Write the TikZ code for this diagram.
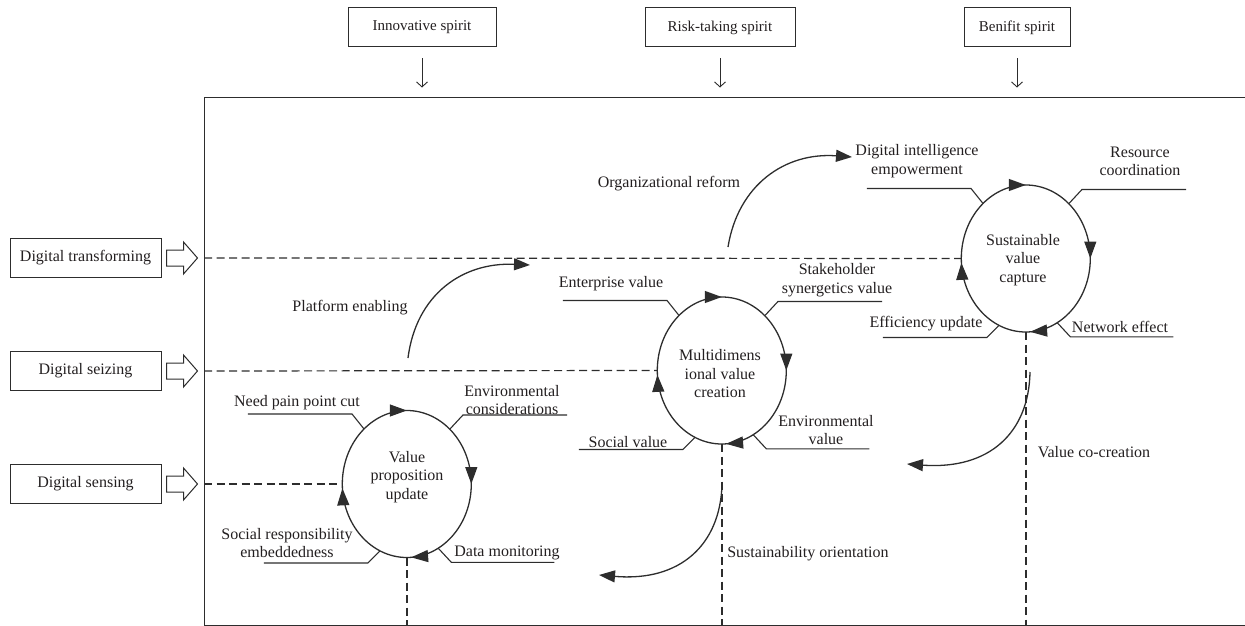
\documentclass[tikz,border=0pt]{standalone}
\usepackage{fontspec}
\setmainfont{Liberation Serif}
\usetikzlibrary{arrows.meta,decorations.markings,shapes.geometric,calc}
\definecolor{ink}{RGB}{35,31,32}
\definecolor{lineink}{RGB}{45,45,45}
\begin{document}
\begin{tikzpicture}[x=1pt,y=-1pt,
  every node/.style={text=ink, font=\fontsize{16}{18.5}\selectfont},
  lbl/.style={align=center, inner sep=0pt},
  sbox/.style={draw=lineink, line width=1pt, minimum height=39pt, inner sep=0pt, font=\fontsize{15}{17}\selectfont},
  lbox/.style={draw=lineink, line width=1pt, minimum width=151pt, minimum height=39pt, inner sep=0pt},
  ring/.style={ellipse, minimum width=129pt, minimum height=147pt, inner sep=0pt},
  ringpath/.style={draw=lineink, line width=1.3pt, decoration={markings,
     mark=at position 0.25 with {\arrow{Triangle[length=17pt,width=12pt]}},
     mark=at position 0.5 with {\arrow{Triangle[length=17pt,width=12pt]}},
     mark=at position 0.74 with {\arrow{Triangle[length=17pt,width=12pt]}},
     mark=at position 0.99 with {\arrow{Triangle[length=17pt,width=12pt]}}},
     postaction={decorate}},
  leader/.style={draw=lineink, line width=1.1pt},
  dashline/.style={draw=lineink, line width=1.2pt, dash pattern=on 8pt off 4.5pt},
  curvearrow/.style={draw=lineink, line width=1.3pt, -{Triangle[length=16pt,width=12pt]}},
  spiritarrow/.style={draw=lineink, line width=0.9pt, -{Straight Barb[length=5pt,width=11pt]}},
  hollow/.style={draw=lineink, line width=1pt, fill=white}
]
\useasboundingbox (0,0) rectangle (1245,626);

% frame
\node[draw=lineink, line width=1.4pt, minimum width=1060pt, minimum height=528pt, anchor=north west, inner sep=0pt] (frame) at (204,96.5) {};

% top boxes
\node[sbox, minimum width=148pt] (inn) at (422,27.5) {Innovative spirit};
\node[sbox, minimum width=150pt] (risk) at (720,27.5) {Risk-taking spirit};
\node[sbox, minimum width=106pt] (ben) at (1017,27.5) {Benifit spirit};
\foreach \b in {inn,risk,ben}
  \draw[spiritarrow] ($(\b.south)+(0,11)$) -- ($(\b.south |- frame.north)+(0,-9)$);

% left boxes
\node[lbox] (dt) at (85.5,258) {Digital transforming};
\node[lbox] (dz) at (85.5,371) {Digital seizing};
\node[lbox] (ds) at (85.5,484) {Digital sensing};
\foreach \b in {dt,dz,ds}
  \draw[hollow] ($(\b.east)+(5,-8)$) -- ++(17,0) -- ++(0,-8) -- ++(14,16) -- ++(-14,16) -- ++(0,-8) -- ++(-17,0) -- cycle;

% rings
\node[ring] (c1) at (407,484) {};
\node[ring] (c2) at (722,370.5) {};
\node[ring] (c3) at (1026,258.5) {};

% dashed lines
\draw[dashline] (frame.west |- dt.east) -- (c3.west);
\draw[dashline] (frame.west |- dz.east) -- (c2.west);
\draw[dashline] (frame.west |- ds.east) -- (c1.west);
\foreach \c in {c1,c2,c3}
  \draw[dashline] (\c.south) -- (\c.south |- frame.south);

\foreach \c in {c1,c2,c3}{
  \path[ringpath] (\c.west) arc[start angle=180, end angle=540, x radius=64.5, y radius=73.5];
  \draw[leader] (\c.128) -- ++(-12,-15) -- ++(-104,0);
  \draw[leader] (\c.52) -- ++(13,-14) -- ++(104,0);
  \draw[leader] (\c.248) -- ++(-12,12) -- ++(-104,0);
  \draw[leader] (\c.296) -- ++(13,14) -- ++(103,0);
}

% ring texts
\node[lbl] (c1t) at (407,477) {Value\\proposition\\update};
\node[lbl] (c2t) at (720,374) {Multidimens\\ional value\\creation};
\node[lbl] (c3t) at (1023,260) {Sustainable\\value\\capture};

% labels ring 1
\node[lbl] (l11) at (297,403) {Need pain point cut};
\node[lbl] (l12) at (512,400) {Environmental\\considerations};
\node[lbl] (l13) at (287,543) {Social responsibility\\embeddedness};
\node[lbl] (l14) at (507,553) {Data monitoring};
% labels ring 2
\node[lbl] (l21) at (611,284) {Enterprise value};
\node[lbl] (l22) at (837,280) {Stakeholder\\synergetics value};
\node[lbl] (l23) at (628,442) {Social value};
\node[lbl] (l24) at (826,430) {Environmental\\value};
% labels ring 3
\node[lbl] (l31) at (917,161) {Digital intelligence\\empowerment};
\node[lbl] (l32) at (1140,161.5) {Resource\\coordination};
\node[lbl] (l33) at (926,324) {Efficiency update};
\node[lbl] (l34) at (1120,327) {Network effect};

% curved arrows
\node[lbl] (pe) at (350,308) {Platform enabling};
\coordinate (pe0) at (408,358); \coordinate (pe1) at (530,265);
\draw[curvearrow] (pe0) .. controls (416,295) and (462,262) .. (pe1);
\node[lbl] (orf) at (669,184) {Organizational reform};
\coordinate (or0) at (728,247); \coordinate (or1) at (852,157);
\draw[curvearrow] (or0) .. controls (738,185) and (785,152) .. (or1);
\node[lbl] (so) at (808,554) {Sustainability orientation};
\coordinate (so0) at (722,485); \coordinate (so1) at (599,575);
\draw[curvearrow] (so0) .. controls (720,545) and (680,582) .. (so1);
\node[lbl] (vc) at (1094,452) {Value co-creation};
\coordinate (vc0) at (1030,372); \coordinate (vc1) at (907,464);
\draw[curvearrow] (vc0) .. controls (1029,432) and (990,470) .. (vc1);
\end{tikzpicture}
\end{document}
